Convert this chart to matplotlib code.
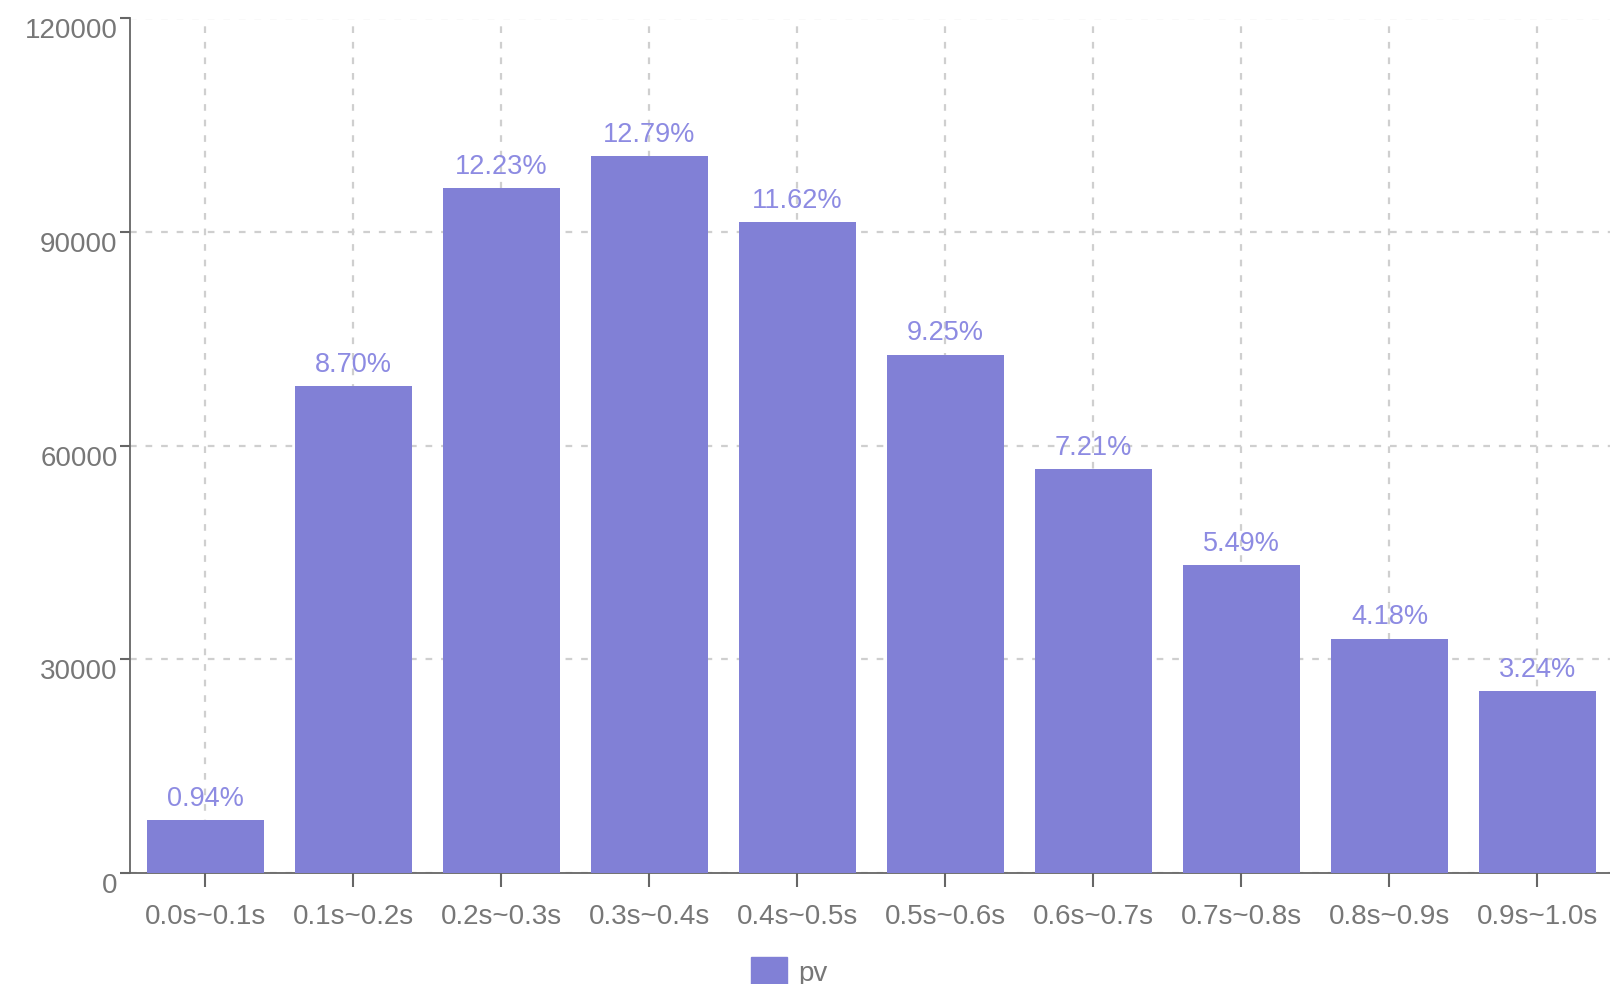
"""pv の応答時間分布（0.1s 刻み）を棒グラフで描く."""

import matplotlib

matplotlib.use("Agg")
import matplotlib.pyplot as plt  # noqa: E402
from matplotlib.patches import Patch  # noqa: E402

# 応答時間の区間
buckets = [
    "0.0s~0.1s", "0.1s~0.2s", "0.2s~0.3s", "0.3s~0.4s", "0.4s~0.5s",
    "0.5s~0.6s", "0.6s~0.7s", "0.7s~0.8s", "0.8s~0.9s", "0.9s~1.0s",
]
# 区間ごとの pv（図から読み取った概算値）
pv = [7400, 68400, 96200, 100650, 91400, 72800, 56700, 43200, 32900, 25500]
# 棒の上に出す割合ラベル
pct_labels = ["0.94%", "8.70%", "12.23%", "12.79%", "11.62%",
              "9.25%", "7.21%", "5.49%", "4.18%", "3.24%"]
yticks = [0, 30000, 60000, 90000, 120000]

BAR = "#8180d6"
LABEL = "#8d8be2"
TEXT = "#777777"
AXIS = "#666666"

plt.rcParams["font.family"] = ["Liberation Sans", "DejaVu Sans"]

fig = plt.figure(figsize=(16.1, 9.84), dpi=100)
ax = fig.add_axes([130 / 1610, 1 - 873 / 984, 1 - 130 / 1610, (873 - 18.5) / 984])

x = range(len(buckets))
bars = ax.bar(x, pv, width=0.79, color=BAR, zorder=3)
for rect, lab in zip(bars, pct_labels):
    ax.annotate(lab, (rect.get_x() + rect.get_width() / 2, rect.get_height()),
                xytext=(0, 6), textcoords="offset points", ha="center", va="bottom",
                color=LABEL, fontsize=19.5, zorder=4)

ax.set_xlim(-0.51, len(buckets) - 0.51)
ax.set_ylim(0, 120000)
ax.set_yticks(yticks)
ax.set_yticklabels([str(v) for v in yticks])
ax.set_xticks(list(x))
ax.set_xticklabels(buckets)

ax.grid(True, color="#cfcfcf", linestyle=(0, (3, 4)), linewidth=1.6, zorder=0)
for side in ("top", "right"):
    ax.spines[side].set_visible(False)
for side in ("left", "bottom"):
    ax.spines[side].set_color(AXIS)
    ax.spines[side].set_linewidth(1.3)

ax.tick_params(axis="x", length=10, width=1.5, color=AXIS, labelcolor=TEXT,
               labelsize=20, pad=12)
ax.tick_params(axis="y", length=7, width=1.5, color=AXIS, labelcolor=TEXT,
               labelsize=20, pad=2)
for lab in ax.get_yticklabels():
    lab.set_verticalalignment("top")

fig.legend(handles=[Patch(color=BAR, label="pv")], loc="lower center",
           bbox_to_anchor=(0.49, -0.028), frameon=False, fontsize=20,
           handlelength=1.3, handleheight=1.2, handletextpad=0.4, labelcolor=TEXT)

fig.savefig("out.png", dpi=100)
